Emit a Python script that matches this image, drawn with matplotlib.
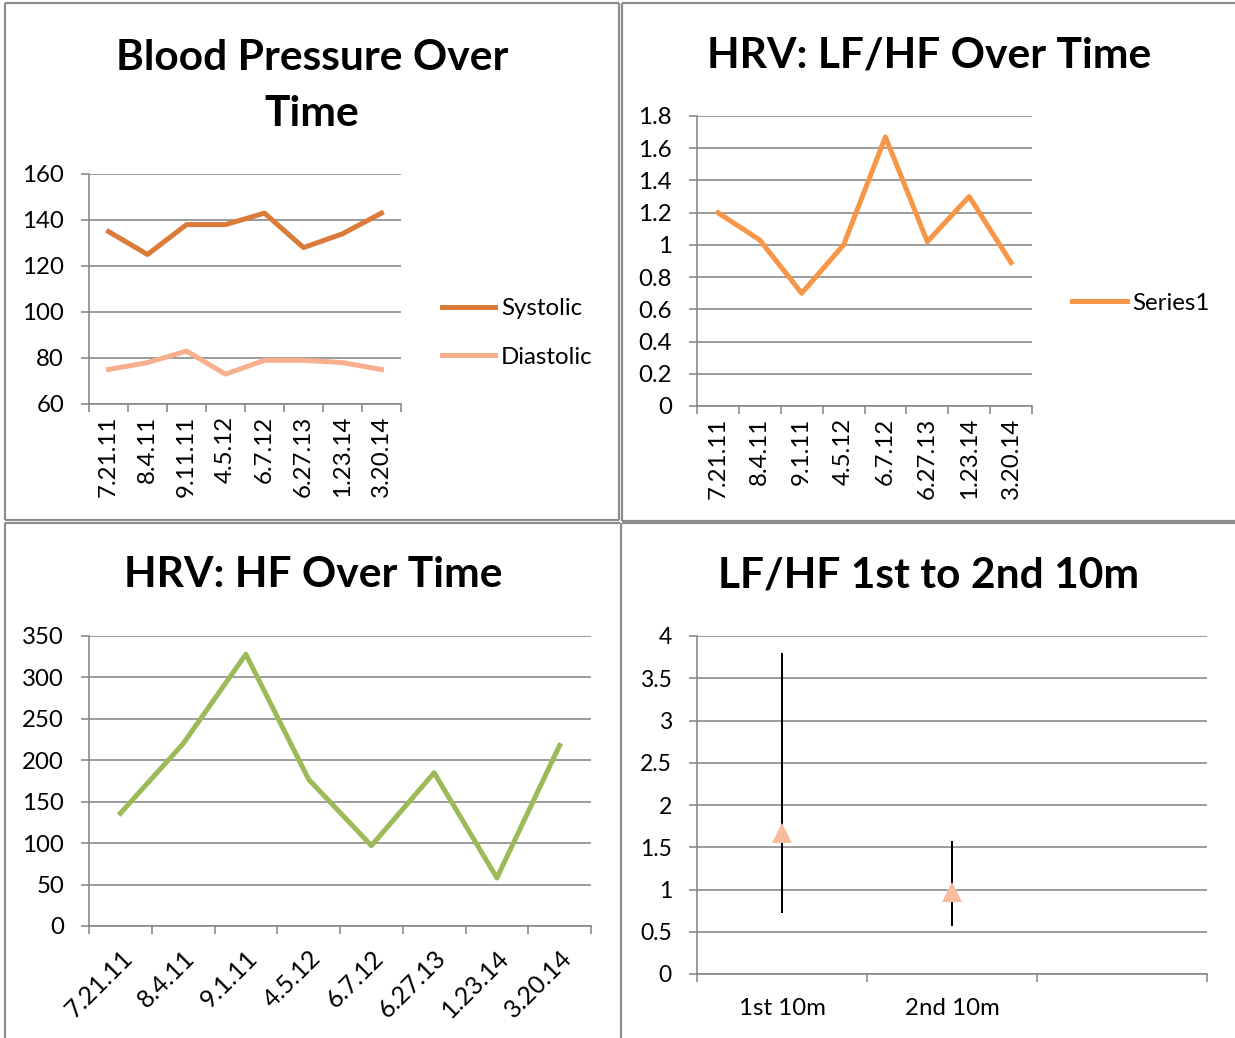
import matplotlib
matplotlib.use("Agg")
import matplotlib.pyplot as plt
import numpy as np
from matplotlib.lines import Line2D

plt.rcParams['font.family'] = ['Lato', 'DejaVu Sans']

# ---------------- data ----------------
dates = ["7.21.11", "8.4.11", "9.11.11", "4.5.12", "6.7.12", "6.27.13", "1.23.14", "3.20.14"]
dates_hf = ["7.21.11", "8.4.11", "9.1.11", "4.5.12", "6.7.12", "6.27.13", "1.23.14", "3.20.14"]
dates_lfhf = ["7.21.11", "8.4.11", "9.1.11", "4.5.12", "6.7.12", "6.27.13", "1.23.14", "3.20.14"]
systolic = [135, 125, 138, 138, 143, 128, 134, 143]
diastolic = [75, 78, 83, 73, 79, 79, 78, 75]
lf_hf = [1.20, 1.03, 0.70, 1.00, 1.67, 1.02, 1.30, 0.89]
hf = [136, 220, 328, 177, 97, 185, 58, 218]
periods = ["1st 10m", "2nd 10m", ""]
period_mean = [1.67, 0.97]
period_low = [0.72, 0.57]
period_high = [3.80, 1.57]

# ---------------- style ----------------
W, H = 1235, 1038
DPI = 100
GRID = '#878787'
C_SYS = '#DB7B3A'
C_DIA = '#F7AF8E'
C_LFHF = '#F79646'
C_HF = '#9BBB59'
C_TRI = '#F9BC9C'
TICK_FS = 17.3
TITLE_FS = 30.6
PX = 72.0 / DPI  # points per pixel

fig = plt.figure(figsize=(W / DPI, H / DPI), dpi=DPI)


def rect(x0, y0, x1, y1):
    return [x0 / W, 1 - y1 / H, (x1 - x0) / W, (y1 - y0) / H]


# frame overlay
bg = fig.add_axes([0, 0, 1, 1], zorder=-10)
bg.set_xlim(0, W)
bg.set_ylim(H, 0)
bg.axis('off')
fc = '#8C8C8C'
lw_frame = 2.2 * PX
for (xs, ys) in [
    ((5, 619), (3, 3)), ((5, 5), (3, 520)), ((619, 619), (3, 520)), ((5, 619), (520, 520)),
    ((622, 1240), (3, 3)), ((622, 622), (3, 521)), ((622, 1240), (521, 521)),
    ((5, 620), (523, 523)), ((5, 5), (523, 1045)), ((620.5, 620.5), (523, 1045)),
    ((622, 1240), (523, 523)),
]:
    bg.add_line(Line2D(xs, ys, color=fc, lw=lw_frame, solid_capstyle='butt'))


def style_axis(ax, ncat, yticks, ylim, labels):
    ax.set_xlim(-0.5, ncat - 0.5)
    ax.set_ylim(*ylim)
    ax.set_yticks(yticks)
    for s in ['top', 'right']:
        ax.spines[s].set_visible(False)
    for s in ['left', 'bottom']:
        ax.spines[s].set_color(GRID)
        ax.spines[s].set_linewidth(1.6 * PX)
    ax.grid(axis='y', color=GRID, lw=1.6 * PX)
    ax.set_axisbelow(True)
    ax.set_xticks(np.arange(ncat + 1) - 0.5, minor=True)
    ax.set_xticks(np.arange(len(labels)))
    ax.tick_params(axis='x', which='minor', length=8 * PX, width=1.6 * PX, color=GRID, direction='out')
    ax.tick_params(axis='x', which='major', length=0, labelsize=TICK_FS)
    ax.tick_params(axis='y', which='major', length=8 * PX, width=1.6 * PX, color=GRID,
                   labelsize=TICK_FS, pad=17 * PX)


# ---------- Panel 1: Blood pressure ----------
ax1 = fig.add_axes(rect(89, 174, 401, 404))
x = np.arange(len(dates))
ax1.plot(x, systolic, color=C_SYS, lw=3.6, label='Systolic', solid_joinstyle='round', clip_on=False)
ax1.plot(x, diastolic, color=C_DIA, lw=3.6, label='Diastolic', solid_joinstyle='round', clip_on=False)
style_axis(ax1, len(dates), [60, 80, 100, 120, 140, 160], (60, 160), dates)
ax1.set_xticklabels(dates, rotation=90, va='top', ha='center')
ax1.tick_params(axis='x', which='major', pad=12 * PX)
ax1.legend(loc='center left', bbox_to_anchor=(442 / W, 1 - 333 / H), bbox_transform=fig.transFigure,
           frameon=False, fontsize=TICK_FS, handlelength=2.2, handletextpad=0.25,
           borderaxespad=0, borderpad=0, labelspacing=1.15)
fig.text(312 / W, 1 - 86 / H, "Blood Pressure Over\nTime", ha='center', va='center',
         fontsize=TITLE_FS, fontweight='bold', linespacing=1.57)

# ---------- Panel 2: LF/HF ----------
ax2 = fig.add_axes(rect(697, 116, 1032, 406))
ax2.plot(x, lf_hf, color=C_LFHF, lw=3.6, label='Series1', solid_joinstyle='round', clip_on=False)
style_axis(ax2, len(dates_lfhf), np.round(np.arange(0, 1.81, 0.2), 1), (0, 1.8), dates_lfhf)
ax2.set_yticklabels(['0', '0.2', '0.4', '0.6', '0.8', '1', '1.2', '1.4', '1.6', '1.8'])
ax2.set_xticklabels(dates_lfhf, rotation=90, va='top', ha='center')
ax2.tick_params(axis='x', which='major', pad=12 * PX)
ax2.legend(loc='center left', bbox_to_anchor=(1072 / W, 1 - 303 / H), bbox_transform=fig.transFigure,
           frameon=False, fontsize=TICK_FS, handlelength=2.3, handletextpad=0.2,
           borderaxespad=0, borderpad=0)
fig.text(929 / W, 1 - 55 / H, "HRV: LF/HF Over Time", ha='center', va='center',
         fontsize=TITLE_FS, fontweight='bold')

# ---------- Panel 3: HF ----------
ax3 = fig.add_axes(rect(89, 636, 591, 926))
ax3.plot(x, hf, color=C_HF, lw=3.6, solid_joinstyle='round', clip_on=False)
style_axis(ax3, len(dates_hf), np.arange(0, 351, 50), (0, 350), dates_hf)
ax3.set_xticklabels(dates_hf, rotation=45, ha='right', va='top', rotation_mode='anchor')
ax3.tick_params(axis='x', which='major', pad=20 * PX, labelsize=18)
fig.text(313 / W, 1 - 575 / H, "HRV: HF Over Time", ha='center', va='center',
         fontsize=TITLE_FS, fontweight='bold')

# ---------- Panel 4: LF/HF 1st vs 2nd ----------
ax4 = fig.add_axes(rect(697, 636, 1207, 974))
xp = np.arange(len(period_mean))
yerr = [np.array(period_mean) - np.array(period_low), np.array(period_high) - np.array(period_mean)]
ax4.errorbar(xp, period_mean, yerr=yerr, fmt='none', ecolor='black', elinewidth=2 * PX, capsize=0, zorder=3)
ax4.plot(xp, period_mean, linestyle='none', marker='^', markersize=20 * PX,
         color=C_TRI, markeredgewidth=0, zorder=4)
style_axis(ax4, len(periods), np.arange(0, 4.01, 0.5), (0, 4), periods)
ax4.set_yticklabels(['0', '0.5', '1', '1.5', '2', '2.5', '3', '3.5', '4'])
ax4.set_xticks(np.arange(len(periods)))
ax4.set_xticklabels(periods)
ax4.tick_params(axis='x', which='major', pad=24 * PX, labelsize=TICK_FS)
ax4.tick_params(axis='y', labelsize=16.5)
fig.text(929 / W, 1 - 575 / H, "LF/HF 1st to 2nd 10m", ha='center', va='center',
         fontsize=TITLE_FS, fontweight='bold')

fig.savefig('out.png', dpi=DPI)
